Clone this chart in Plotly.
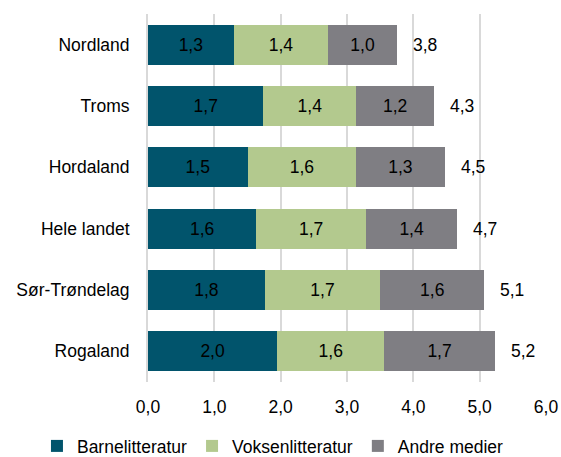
import plotly.graph_objects as go

categories = ["Nordland", "Troms", "Hordaland", "Hele landet", "Sør-Trøndelag", "Rogaland"]
series_names = ["Barnelitteratur", "Voksenlitteratur", "Andre medier"]

barne = [1.29, 1.74, 1.50, 1.63, 1.76, 1.95]
voksen = [1.43, 1.40, 1.64, 1.66, 1.74, 1.61]
andre = [1.03, 1.17, 1.33, 1.37, 1.57, 1.67]

barne_labels = ["1,3", "1,7", "1,5", "1,6", "1,8", "2,0"]
voksen_labels = ["1,4", "1,4", "1,6", "1,7", "1,7", "1,6"]
andre_labels = ["1,0", "1,2", "1,3", "1,4", "1,6", "1,7"]
total_labels = ["3,8", "4,3", "4,5", "4,7", "5,1", "5,2"]

tick_vals = [0, 1, 2, 3, 4, 5, 6]

colors = ["#01546c", "#b3c98e", "#7f7e83"]
FONT = "Liberation Sans, Arial, sans-serif"
FS = 17.5

fig = go.Figure()
for name, vals, labs, col in zip(series_names, [barne, voksen, andre],
                                 [barne_labels, voksen_labels, andre_labels], colors):
    fig.add_trace(go.Bar(
        name=name, y=categories, x=vals, orientation="h",
        marker=dict(color=col, line=dict(width=0)),
        text=labs, textposition="inside", insidetextanchor="middle",
        textangle=0, constraintext="none",
        textfont=dict(family=FONT, size=FS, color="#000000"),
        hoverinfo="skip",
    ))

totals = [a + b + c for a, b, c in zip(barne, voksen, andre)]
for cat, tot, lab in zip(categories, totals, total_labels):
    fig.add_annotation(x=tot, y=cat, text=lab, showarrow=False,
                       xanchor="left", xshift=14,
                       font=dict(family=FONT, size=FS, color="#000000"))

fig.update_layout(
    barmode="stack",
    bargap=0.35,
    width=561, height=457,
    margin=dict(l=148, r=15, t=14, b=75, autoexpand=False),
    paper_bgcolor="white", plot_bgcolor="white",
    separators=", ",
    font=dict(family=FONT, size=FS, color="#000000"),
    showlegend=True,
    legend=dict(orientation="h", xref="paper", yref="paper",
                x=-0.279, xanchor="left", y=-0.174, yanchor="middle",
                font=dict(family=FONT, size=FS, color="#000000"),
                traceorder="normal", itemclick=False),
    xaxis=dict(range=[0, 6], tickvals=tick_vals, tickformat=".1f",
               showgrid=True, gridcolor="#d9d9d9", gridwidth=2,
               zeroline=False, showline=False, ticks="",
               ticklabelstandoff=12, automargin=False,
               tickfont=dict(family=FONT, size=FS, color="#000000")),
    yaxis=dict(autorange="reversed", showgrid=False, zeroline=False,
               showline=True, linecolor="#d9d9d9", linewidth=2,
               ticks="", ticklabelstandoff=13, automargin=False,
               tickfont=dict(family=FONT, size=FS, color="#000000")),
)

fig.write_html("out.html",
               config={"displayModeBar": False},
               post_script="document.body.style.margin='0';document.body.style.padding='0';")
